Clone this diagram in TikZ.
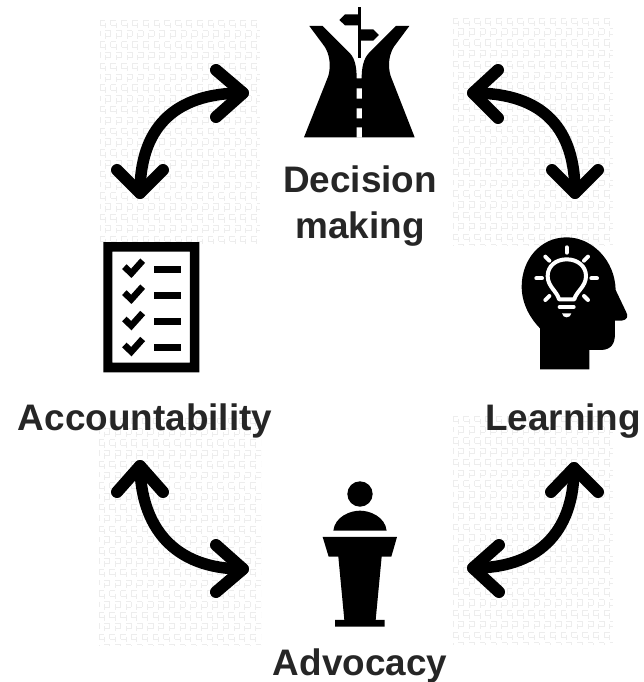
\documentclass[tikz,border=0pt]{standalone}
\usepackage{fontspec}
\setmainfont{Liberation Sans}
\definecolor{labelcol}{HTML}{262626}
\definecolor{gridcol}{HTML}{EDEDED}
\tikzset{
  x=1pt,y=-1pt,
  label text/.style={font=\fontsize{36.9}{46}\selectfont\bfseries,text=labelcol,align=center,inner sep=0pt},
  shaft/.style={line width=11.5pt,line cap=round,line join=round,draw=black},
  barb/.style={line width=12pt,line cap=round,line join=round,draw=black},
  icon/.style={fill=black,draw=none},
  bulb/.style={draw=white,line width=4pt,line cap=round,line join=round},
  ray/.style={draw=white,line width=4pt,line cap=round},
  tickmark/.style={draw=black,line width=6.5pt,line join=miter},
  hgrid/.style={draw=gridcol,line width=0.7pt,dash pattern=on 5.4pt off 5.4pt},
}
\newcommand{\texturepatch}[4]{%
  \begin{scope}
    \clip (#1,#2) rectangle (#3,#4);
    \foreach \i in {0,...,44}{
      \pgfmathsetmacro{\yy}{#2+5.4*\i}
      \pgfmathsetmacro{\ph}{mod(\i*\i*3+\i,4)*2.7}
      \draw[hgrid,dash phase=\ph pt] (#1,\yy) -- (#3,\yy);
    }
    \foreach \i in {0,...,32}{
      \pgfmathsetmacro{\xx}{#1+5.4*\i}
      \pgfmathsetmacro{\ph}{mod(\i*\i*5+2*\i,4)*2.7}
      \draw[hgrid,dash phase=\ph pt] (\xx,#2) -- (\xx,#4);
    }
  \end{scope}}
\begin{document}
\begin{tikzpicture}
\useasboundingbox (0,0) rectangle (644,682);
\texturepatch{100}{20}{260}{245}
\texturepatch{453}{18}{613}{245}
\texturepatch{99}{418}{261}{645}
\texturepatch{453}{416}{613}{645}

% decision icon
\begin{scope}[shift={(270,0)},x=0.3333pt,y=-0.3333pt]
  \fill[icon] (118,78) -- (158,78) -- (240,160) .. controls (256,177) and (260,205) .. (260,235)
    -- (275,235) .. controls (275,205) and (280,177) .. (296,160) -- (378,78) -- (418,78)
    -- (372,140) .. controls (358,162) and (352,195) .. (362,228) -- (434,412) -- (102,412)
    -- (175,228) .. controls (184,195) and (178,162) .. (164,140) -- cycle;
  \fill[white] (260,265) rectangle (276,296) (260,325) rectangle (276,355) (260,382) rectangle (276,413);
  \fill[icon] (264,20) rectangle (272,175);
  \fill[icon] (264,43) -- (225,43) -- (208,60) -- (225,76) -- (264,76) -- cycle;
  \fill[icon] (272,88) -- (310,88) -- (327,105) -- (310,122) -- (272,122) -- cycle;
\end{scope}

% head icon
\begin{scope}[shift={(500,230)},x=0.3333pt,y=-0.3333pt]
  \fill[icon] (120,418) -- (268,418) -- (268,360) -- (305,360) .. controls (335,358) and (345,340) .. (345,310)
    -- (345,272) -- (365,272) .. controls (382,270) and (386,258) .. (378,245) -- (347,180)
    .. controls (345,90) and (275,22) .. (200,22) .. controls (120,22) and (65,90) .. (65,170)
    .. controls (65,225) and (95,270) .. (120,295) -- cycle;
  \draw[bulb] (177,208) -- (223,208) .. controls (228,185) and (258,170) .. (258,138)
    .. controls (258,108) and (232,88) .. (200,88) .. controls (168,88) and (143,108) .. (143,138)
    .. controls (143,170) and (172,185) .. (177,208) -- cycle;
  \draw[ray] (200,52) -- (200,68);
  \draw[ray] (136,80) -- (148,92);
  \draw[ray] (264,80) -- (252,92);
  \draw[ray] (109,145) -- (126,145);
  \draw[ray] (274,145) -- (291,145);
  \draw[ray] (136,210) -- (148,198);
  \draw[ray] (264,210) -- (252,198);
  \draw[ray] (179,231) -- (221,231);
  \fill[white] (186,250) -- (214,250) .. controls (212,266) and (188,266) .. (186,250) -- cycle;
\end{scope}

% checklist icon
\begin{scope}[shift={(90,230)},x=0.3333pt,y=-0.3333pt]
  \fill[icon,even odd rule] (40,36) rectangle (328,427) (67,65) rectangle (300,398);
  \foreach \d in {0,78,157,235}{
    \draw[tickmark] (103,110+\d) -- (124,130+\d) -- (158,92+\d);
    \fill[icon] (192,108+\d) rectangle (273,129+\d);
  }
\end{scope}

% podium icon
\begin{scope}[shift={(300,470)},x=0.3333pt,y=-0.3333pt]
  \fill[icon] (180,72) circle[radius=12.7pt];
  \fill[icon] (100,182) .. controls (105,140) and (150,122) .. (180,122)
    .. controls (210,122) and (255,140) .. (260,182) -- cycle;
  \fill[icon] (68,201) -- (291,201) -- (274,260) -- (245,260) -- (227,450) -- (254,450) -- (254,470)
    -- (105,470) -- (105,450) -- (133,450) -- (115,260) -- (86,260) -- cycle;
\end{scope}

% labels
\node[label text] (decision) at (360,206) {Decision\\making};
\node[label text] (accountability) at (145,421) {Accountability};
\node[label text] (learning) at (563,421) {Learning};
\node[label text] (advocacy) at (360,666) {Advocacy};

% arrow ends
\coordinate (tlA) at (243,93);  \coordinate (tlB) at (140,193);
\coordinate (trA) at (473,93);  \coordinate (trB) at (575,193);
\coordinate (blA) at (243,569); \coordinate (blB) at (140,466);
\coordinate (brA) at (473,568); \coordinate (brB) at (574,468);

\draw[shaft] (tlA) .. controls (172,93) and (140,130) .. (tlB);
\draw[barb] (216,70) -- (tlA) -- (216,117);
\draw[barb] (117,170) -- (tlB) -- (163,170);

\draw[shaft] (trA) .. controls (545,93) and (575,130) .. (trB);
\draw[barb] (498,70) -- (trA) -- (498,118);
\draw[barb] (552,170) -- (trB) -- (598,170);

\draw[shaft] (blA) .. controls (172,569) and (141,525) .. (blB);
\draw[barb] (216,545) -- (blA) -- (216,592);
\draw[barb] (117,492) -- (blB) -- (163,492);

\draw[shaft] (brA) .. controls (545,568) and (574,525) .. (brB);
\draw[barb] (499,545) -- (brA) -- (499,592);
\draw[barb] (551,492) -- (brB) -- (598,492);
\end{tikzpicture}
\end{document}
